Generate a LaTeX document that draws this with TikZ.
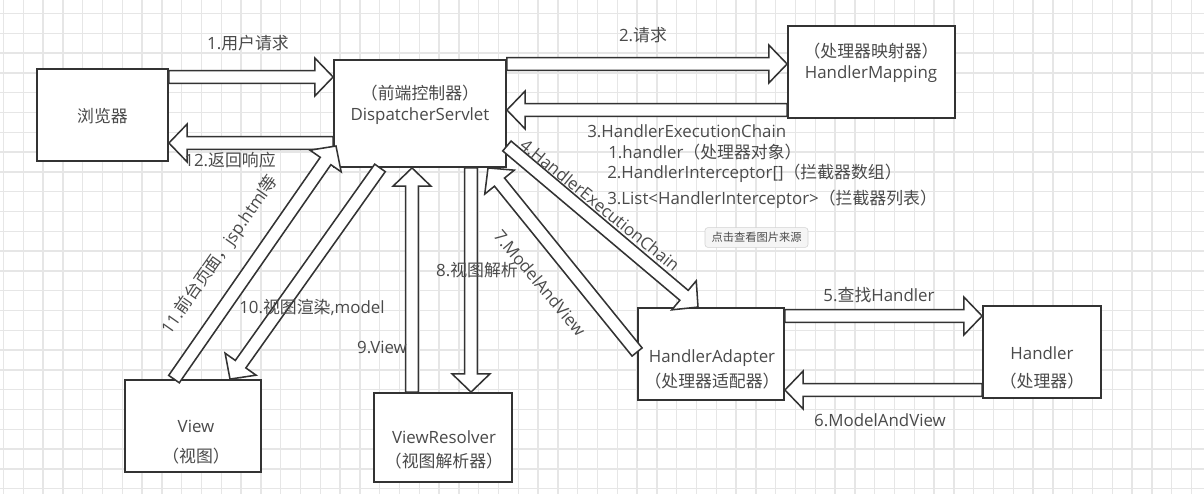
\documentclass[tikz,border=0pt]{standalone}
\usepackage{fontspec}
\setmainfont{Open Sans}
\newfontfamily\zh{Noto Sans CJK SC}
\usepackage{xcolor}
\usepackage{tikz}
\usetikzlibrary{calc}

\definecolor{ln}{HTML}{333333}
\definecolor{tx}{HTML}{4A4A4A}
\definecolor{gridc}{HTML}{E6E6E6}

% fat arrow sizes
\def\sw{4.6pt}
\def\hw{13.5pt}
\def\hl{13pt}

\begin{document}
\begin{tikzpicture}[
    x=0.025cm, y=-0.025cm,
    font=\fontsize{12}{15}\selectfont,
    text=tx,
    gridline/.style={draw=gridc, line width=0.9pt},
    box/.style 2 args={
        draw=ln,
        line width=1.3pt,
        fill=white,
        inner sep=0pt,
        minimum width=#1*0.025cm,
        minimum height=#2*0.025cm
    },
    txt/.style={align=center, inner sep=0pt},
    lbl/.style={inner sep=0pt},
    fat/.style={
        draw=ln,
        line width=1.1pt,
        fill=white,
        to path={
            ($(\tikztostart)!\sw!-90:(\tikztotarget)$)
            -- ($(\tikztotarget)!\hl!(\tikztostart)!\sw!90:(\tikztostart)$)
            -- ($(\tikztotarget)!\hl!(\tikztostart)!\hw!90:(\tikztostart)$)
            -- (\tikztotarget)
            -- ($(\tikztotarget)!\hl!(\tikztostart)!\hw!-90:(\tikztostart)$)
            -- ($(\tikztotarget)!\hl!(\tikztostart)!\sw!-90:(\tikztostart)$)
            -- ($(\tikztostart)!\sw!90:(\tikztotarget)$)
            -- cycle
        }
    },
    srcbox/.style={
        draw=gray!35,
        fill=gray!8,
        rounded corners=2pt,
        text=black!70,
        font=\zh\fontsize{8}{9}\selectfont,
        minimum width=103*0.025cm,
        minimum height=19*0.025cm
    }
]

\useasboundingbox (0,0) rectangle (1204,494);

% ==================== background grid ====================
\foreach \gx in {3.5,23.3,...,1204}
    \draw[gridline] (\gx,0) -- (\gx,494);
\foreach \gy in {13.5,33.3,...,494}
    \draw[gridline] (0,\gy) -- (1204,\gy);

% ==================== boxes ====================
\node[box={131}{92}]  (browser) at (102.5,115) {};
\node[box={172}{107}] (disp)    at (420,113.5) {};
\node[box={167}{92}]  (hmap)    at (871.5,72)  {};
\node[box={136}{92}]  (view)    at (193,426)   {};
\node[box={138}{89}]  (vres)    at (443,437.5) {};
\node[box={146}{92}]  (hadapt)  at (711,354)   {};
\node[box={118}{92}]  (handler) at (1042,352)  {};

% ==================== connectors ====================
\coordinate (a1s)  at (browser.east |- 0,77);
\coordinate (a1e)  at (disp.west |- 0,77);
\coordinate (a12s) at (disp.west |- 0,143);
\coordinate (a12e) at (browser.east |- 0,143);
\coordinate (a2s)  at (disp.east |- 0,64);
\coordinate (a2e)  at (hmap.west |- 0,64);
\coordinate (a3s)  at (hmap.west |- 0,110);
\coordinate (a3e)  at (disp.east |- 0,110);
\coordinate (a4s)  at (disp.east |- 0,146);
\coordinate (a4e)  at (698,0 |- hadapt.north);
\coordinate (a7s)  at (hadapt.west |- 0,352);
\coordinate (a7e)  at (488,0 |- disp.south);
\coordinate (a8s)  at (471,0 |- disp.south);
\coordinate (a8e)  at (471,0 |- vres.north);
\coordinate (a9s)  at (412,0 |- vres.north);
\coordinate (a9e)  at (412,0 |- disp.south);
\coordinate (a10s) at (380,0 |- disp.south);
\coordinate (a10e) at (230,0 |- view.north);
\coordinate (a11s) at (174,0 |- view.north);
\coordinate (a11e) at (336,146);
\coordinate (a5s)  at (hadapt.east |- 0,316);
\coordinate (a5e)  at (handler.west |- 0,316);
\coordinate (a6s)  at (handler.west |- 0,390);
\coordinate (a6e)  at (hadapt.east |- 0,390);

\draw[fat] (a1s) to (a1e);
\draw[fat] (a12s) to (a12e);
\draw[fat] (a2s) to (a2e);
\draw[fat] (a3s) to (a3e);
\draw[fat] (a4s) to (a4e);
\draw[fat] (a7s) to (a7e);
\draw[fat] (a8s) to (a8e);
\draw[fat] (a9s) to (a9e);
\draw[fat] (a10s) to (a10e);
\draw[fat] (a11s) to (a11e);
\draw[fat] (a5s) to (a5e);
\draw[fat] (a6s) to (a6e);

% ==================== box texts ====================
\node[txt] (browser-t) at (102.5,116) {\zh 浏览器};
\node[txt] (disp-t)    at (420,105)   {{\zh （前端控制器）}\\DispatcherServlet};
\node[txt] (hmap-t)    at (871,62.5)  {{\zh （处理器映射器）}\\HandlerMapping};
\node[txt] (view-t)    at (196,442)   {View\\[6pt]{\zh （视图）}};
\node[txt] (vres-t)    at (444,450)   {ViewResolver\\[2pt]{\zh （视图解析器）}};
\node[txt] (hadapt-t)  at (712,369.5) {HandlerAdapter\\[3pt]{\zh （处理器适配器）}};
\node[txt] (handler-t) at (1042,367.5){Handler\\[5pt]{\zh （处理器）}};

% ==================== labels ====================
\node[lbl] (l1)  at (248,43)  {1.{\zh 用户请求}};
\node[lbl] (l2)  at (643,35)  {2.{\zh 请求}};
\node[lbl, anchor=west] (l3)  at (587,131) {3.HandlerExecutionChain};
\node[lbl, anchor=west] (l3a) at (608,152) {1.handler{\zh （处理器对象）}};
\node[lbl, anchor=west] (l3b) at (607,173) {2.HandlerInterceptor[]{\zh （拦截器数组）}};
\node[lbl, anchor=west] (l3c) at (607,199) {3.List<HandlerInterceptor>{\zh （拦截器列表）}};
\node[lbl, rotate=-39] (l4)  at (600,205) {4.HandlerExecutionChain};
\node[lbl] (l5)  at (879,295) {5.{\zh 查找}Handler};
\node[lbl] (l6)  at (880,420) {6.ModelAndView};
\node[lbl, rotate=-50] (l7)  at (540,283) {7.ModelAndView};
\node[lbl] (l8)  at (477,270) {8.{\zh 视图解析}};
\node[lbl] (l9)  at (382,347) {9.View};
\node[lbl] (l10) at (312,307) {10.{\zh 视图渲染},model};
\node[lbl, rotate=55] (l11) at (220,255) {11.{\zh 前台页面，}jsp.html{\zh 等}};
\node[lbl] (l12) at (230,160) {12.{\zh 返回响应}};

\node[srcbox] (src) at (756.5,237.5) {点击查看图片来源};

\end{tikzpicture}
\end{document}
